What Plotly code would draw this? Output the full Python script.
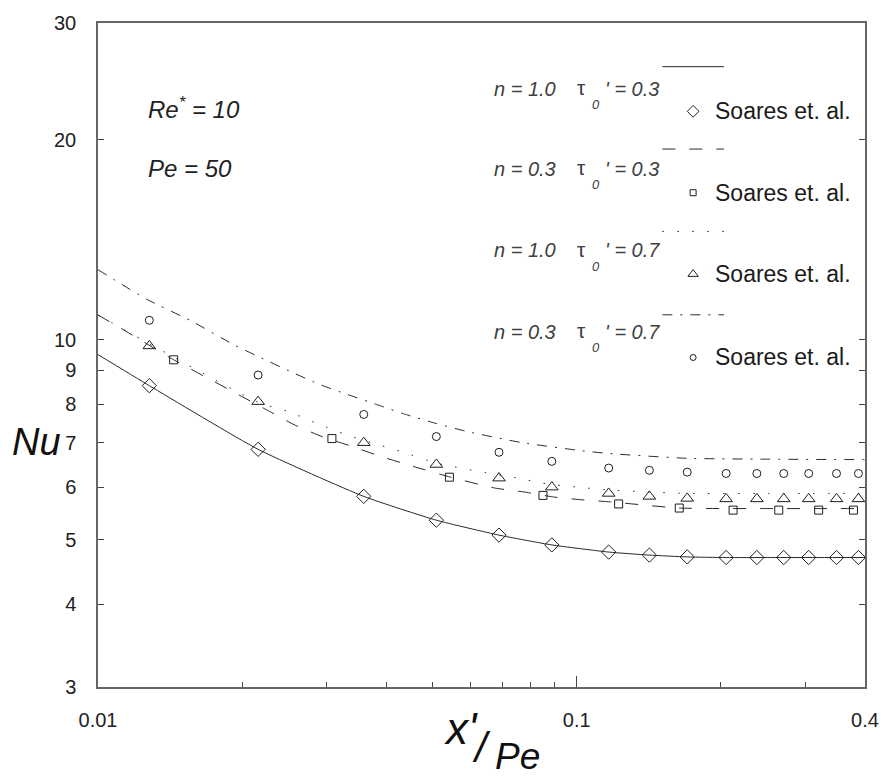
import plotly.graph_objects as go

# ---------------- data ----------------
# model curves (x'/Pe, Nu)
line_n10_t03_x = [0.01, 0.0128, 0.0216, 0.0359, 0.0509, 0.0688, 0.0887, 0.1166, 0.1418, 0.1701, 0.2051, 0.25, 0.30, 0.40]
line_n10_t03_y = [9.50, 8.53, 6.84, 5.81, 5.35, 5.08, 4.91, 4.79, 4.74, 4.71, 4.70, 4.70, 4.70, 4.70]

line_n03_t03_x = [0.01, 0.01116, 0.01439, 0.01693, 0.01945, 0.02246, 0.02568, 0.02937, 0.0339, 0.0388, 0.0448,
                  0.0545, 0.0675, 0.0776, 0.0891, 0.1029, 0.1177, 0.1637, 0.25, 0.40]
line_n03_t03_y = [10.9, 10.41, 9.33, 8.76, 8.30, 7.85, 7.45, 7.15, 6.91, 6.68, 6.47,
                  6.21, 5.98, 5.90, 5.80, 5.74, 5.70, 5.58, 5.57, 5.57]

line_n10_t07_x = [0.01, 0.0124, 0.0216, 0.02507, 0.02867, 0.03294, 0.0377, 0.0435, 0.0509, 0.0659, 0.0754,
                  0.0862, 0.1005, 0.1166, 0.17, 0.25, 0.40]
line_n10_t07_y = [10.9, 9.99, 8.05, 7.79, 7.48, 7.20, 6.98, 6.77, 6.52, 6.29, 6.19,
                  6.07, 6.00, 5.94, 5.87, 5.87, 5.87]

line_n03_t07_x = [0.01, 0.01264, 0.01568, 0.01927, 0.02214, 0.0253, 0.0291, 0.03325, 0.0382, 0.0439, 0.0509,
                  0.0593, 0.0769, 0.1019, 0.1171, 0.17, 0.25, 0.40]
line_n03_t07_y = [12.75, 11.51, 10.67, 9.82, 9.36, 8.95, 8.56, 8.27, 7.99, 7.72, 7.48,
                  7.27, 7.00, 6.81, 6.74, 6.63, 6.61, 6.60]

# Soares et al. points
pts_x = [0.0128, 0.0216, 0.0359, 0.0509, 0.0688, 0.0887, 0.1166, 0.1418, 0.1701, 0.2051, 0.2378, 0.2706, 0.3051, 0.3488, 0.3876]
diamond_y = [8.53, 6.84, 5.81, 5.35, 5.08, 4.91, 4.79, 4.74, 4.71, 4.70, 4.70, 4.70, 4.70, 4.70, 4.70]
triangle_y = [9.79, 8.07, 7.00, 6.49, 6.19, 6.00, 5.87, 5.81, 5.77, 5.76, 5.76, 5.76, 5.76, 5.76, 5.76]
circle_y = [10.70, 8.85, 7.72, 7.15, 6.77, 6.56, 6.41, 6.36, 6.32, 6.29, 6.29, 6.29, 6.29, 6.29, 6.29]

square_x = [0.01439, 0.0308, 0.0542, 0.0850, 0.1223, 0.1637, 0.2121, 0.2642, 0.3201, 0.3784]
square_y = [9.33, 7.10, 6.21, 5.83, 5.66, 5.58, 5.54, 5.54, 5.54, 5.54]

legend_n = ["1.0", "0.3", "1.0", "0.3"]
legend_tau = ["0.3", "0.3", "0.7", "0.7"]
legend_source = "Soares et. al."

x_tick_vals = [0.01, 0.1, 0.4]
x_tick_text = ["0.01", "0.1", "0.4"]
x_minor_vals = [0.02, 0.03, 0.04, 0.05, 0.06, 0.07, 0.08, 0.09, 0.2, 0.3]
y_tick_vals = [3, 4, 5, 6, 7, 8, 9, 10, 20, 30]
y_tick_text = ["3", "4", "5", "6", "7", "8", "9", "10", "20", "30"]

# ---------------- styles ----------------
FONT = "Liberation Sans, Arial, sans-serif"
LC = "#2a2a2a"
dashes = ["solid", "13px,14px", "1.5px,13.5px", "10px,8px,2px,8px"]
symbols = ["diamond-open", "square-open", "triangle-up-open", "circle-open"]
msizes = [11, 8, 11, 8]
leg_msizes = [9, 6, 9, 6]

# plot-area pixel frame (used for placing legend / labels)
PL, PR, PT, PB = 98, 870, 18, 687

lines = [(line_n10_t03_x, line_n10_t03_y), (line_n03_t03_x, line_n03_t03_y),
         (line_n10_t07_x, line_n10_t07_y), (line_n03_t07_x, line_n03_t07_y)]
points = [(pts_x, diamond_y), (square_x, square_y), (pts_x, triangle_y), (pts_x, circle_y)]

fig = go.Figure()
for (lx, ly), d in zip(lines, dashes):
    fig.add_trace(go.Scatter(x=lx, y=ly, mode="lines", line=dict(color=LC, width=1, dash=d, shape="spline", smoothing=0.5),
                             showlegend=False, hoverinfo="skip"))
for (px, py), s, ms in zip(points, symbols, msizes):
    fig.add_trace(go.Scatter(x=px, y=py, mode="markers",
                             marker=dict(symbol=s, size=ms, color="#1e1e1e", line=dict(color="#1e1e1e", width=1)),
                             showlegend=False))

# ---------------- custom legend (pixel-space overlay axes) ----------------
row_text_y = [84, 165, 247, 329]
row_line_y = [62, 145, 228, 312]
row_mark_y = [107, 189, 271, 355]
for i in range(4):
    fig.add_trace(go.Scatter(x=[697], y=[row_mark_y[i]], xaxis="x2", yaxis="y2", mode="markers",
                             marker=dict(symbol=symbols[i], size=leg_msizes[i], color="#1e1e1e",
                                         line=dict(color="#1e1e1e", width=1)),
                             showlegend=False, hoverinfo="skip"))
    fig.add_trace(go.Scatter(x=[666, 728], y=[row_line_y[i]] * 2, xaxis="x2", yaxis="y2", mode="lines",
                             line=dict(color=LC, width=1, dash=dashes[i]), showlegend=False, hoverinfo="skip"))

annotations = []
def ann(x, y, text, size, color="#222", xanchor="left", italic=False):
    t = f"<i>{text}</i>" if italic else text
    annotations.append(dict(x=(x - PL) / (PR - PL), y=(PB - y) / (PB - PT), xref="paper", yref="paper",
                            text=t, showarrow=False, xanchor=xanchor,
                            yanchor="middle", font=dict(family=FONT, size=size, color=color)))

LEGC = "#404040"
for i in range(4):
    ann(495, row_text_y[i], f"n = {legend_n[i]}", 20, LEGC, italic=True)
    ann(578, row_text_y[i] - 1, "τ", 21, LEGC)
    ann(593, row_text_y[i] + 16, "0", 13, LEGC, italic=True)
    ann(606, row_text_y[i], f"' = {legend_tau[i]}", 20, LEGC, italic=True)
    ann(717, row_mark_y[i], legend_source, 23, "#1a1a1a")

# parameter labels
ann(146, 104, "Re<sup>*</sup> = 10", 24, "#222", italic=True)
ann(146, 165, "Pe = 50", 24, "#222", italic=True)

# axis titles
ann(36, 440, "Nu", 38, "#111", xanchor="center", italic=True)
ann(444, 729, "x'", 44, "#111", italic=True)
ann(472, 748, "/", 42, "#111", italic=True)
ann(496, 757, "Pe", 37, "#111", italic=True)

fig.update_layout(
    width=891, height=776,
    margin=dict(l=PL, r=891 - PR, t=PT, b=776 - PB),
    paper_bgcolor="white", plot_bgcolor="white",
    font=dict(family=FONT, color="#222"),
    annotations=annotations,
    xaxis=dict(type="log", range=[-2, -0.39794], tickmode="array", tickvals=x_tick_vals, ticktext=x_tick_text,
               ticks="inside", ticklen=11, tickwidth=1, tickcolor="#444",
               minor=dict(tickmode="array", tickvals=x_minor_vals, ticks="inside", ticklen=5, tickcolor="#444", tickwidth=1),
               showline=True, linecolor="#666", linewidth=1.5, mirror=True, showgrid=False, zeroline=False,
               tickfont=dict(size=20, color="#222", family=FONT), ticklabelstandoff=14),
    yaxis=dict(type="log", range=[0.47712, 1.47712], tickmode="array", tickvals=y_tick_vals, ticktext=y_tick_text,
               ticks="inside", ticklen=6, tickwidth=1, tickcolor="#444",
               showline=True, linecolor="#666", linewidth=1.5, mirror="ticks", showgrid=False, zeroline=False,
               tickfont=dict(size=20, color="#222", family=FONT), ticklabelstandoff=16),
    xaxis2=dict(overlaying="x", range=[PL, PR], visible=False, anchor="y2"),
    yaxis2=dict(overlaying="y", range=[PB, PT], visible=False, anchor="x2"),
)

fig.write_html("out.html")
